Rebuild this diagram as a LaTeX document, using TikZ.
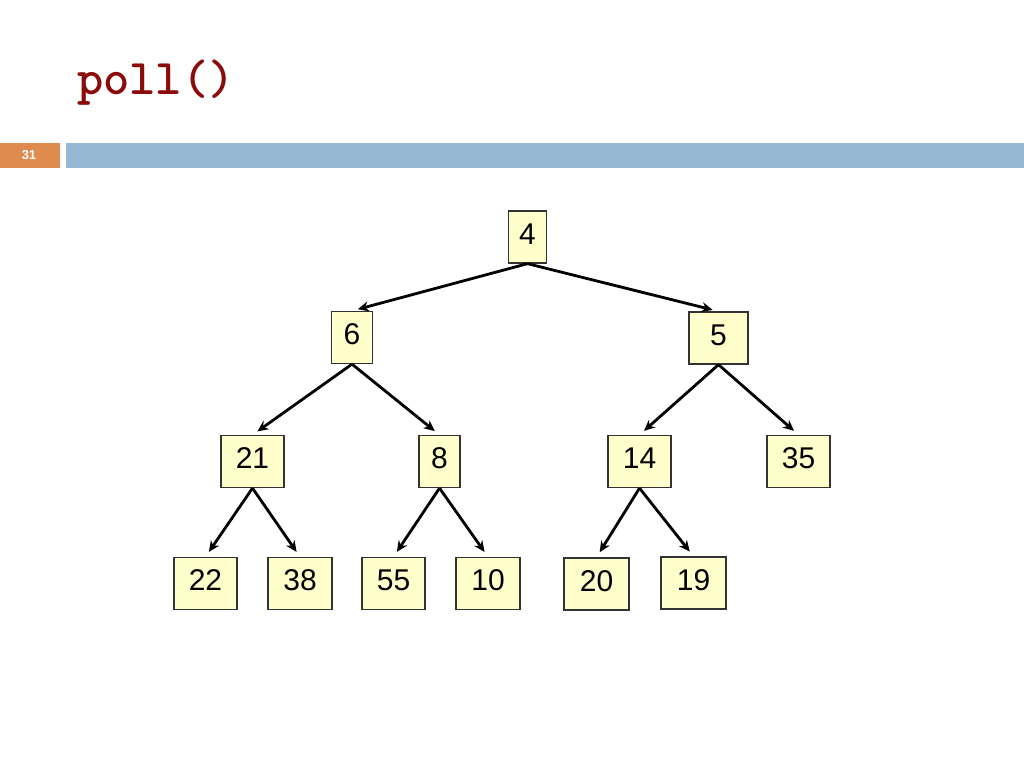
\documentclass[tikz,border=0pt]{standalone}
\usepackage{fontspec}
\setmainfont{Liberation Sans}
\usetikzlibrary{arrows.meta}
\definecolor{boxfill}{HTML}{FFFFCC}
\definecolor{boxline}{HTML}{333333}
\definecolor{titlered}{HTML}{8B0A0A}
\definecolor{slideorange}{HTML}{DF8A4E}
\definecolor{slideblue}{HTML}{95B7D4}
\tikzset{
  heapbox/.style={draw=boxline, line width=1.3pt, fill=boxfill, minimum height=52pt,
    inner sep=0pt, text height=22pt, text depth=8pt, font=\fontsize{30}{30}\selectfont},
  heaparrow/.style={line width=2.8pt, -{Stealth[length=11pt,width=10pt]}, shorten >=6pt}
}
\begin{document}
\begin{tikzpicture}[x=1pt,y=-1pt]
\useasboundingbox (0,0) rectangle (1024,768);
\fill[white] (0,0) rectangle (1024,768);
% header
\node[anchor=base west, inner sep=0pt, text=titlered, font=\ttfamily\bfseries\fontsize{50}{50}\selectfont] (title) at (77,94) {poll()};
\fill[slideorange] (0,143) rectangle (60,168);
\fill[slideblue] (66,143) rectangle (1024,168);
\node[text=white, font=\bfseries\fontsize{13}{13}\selectfont] (pagenum) at (29,155.5) {31};
% nodes
\node[heapbox, minimum width=38pt] (n4) at (527.5,237) {4};
\node[heapbox, minimum width=41pt] (n6) at (352,337.5) {6};
\node[heapbox, minimum width=59pt] (n5) at (718.5,338) {5};
\node[heapbox, minimum width=63pt] (n21) at (252.5,461.5) {21};
\node[heapbox, minimum width=41pt] (n8) at (439.5,461.5) {8};
\node[heapbox, minimum width=63pt] (n14) at (639.5,461.5) {14};
\node[heapbox, minimum width=63pt] (n35) at (798.5,461.5) {35};
\node[heapbox, minimum width=63pt] (n22) at (205.5,583.5) {22};
\node[heapbox, minimum width=64pt] (n38) at (300,583.5) {38};
\node[heapbox, minimum width=63pt] (n55) at (393.5,583.5) {55};
\node[heapbox, minimum width=64pt] (n10) at (488,583.5) {10};
\node[heapbox, minimum width=65pt] (n20) at (596.5,584) {20};
\node[heapbox, minimum width=65pt] (n19) at (693.5,583) {19};
% edges
\draw[heaparrow] (n4.south) -- (n6.north);
\draw[heaparrow] (n4.south) -- (n5.north);
\draw[heaparrow] (n6.south) -- (n21.north);
\draw[heaparrow] (n6.south) -- (n8.north);
\draw[heaparrow] (n5.south) -- (n14.north);
\draw[heaparrow] (n5.south) -- (n35.north);
\draw[heaparrow] (n21.south) -- (n22.north);
\draw[heaparrow] (n21.south) -- (n38.north);
\draw[heaparrow] (n8.south) -- (n55.north);
\draw[heaparrow] (n8.south) -- (n10.north);
\draw[heaparrow] (n14.south) -- (n20.north);
\draw[heaparrow] (n14.south) -- (n19.north);
\end{tikzpicture}
\end{document}
